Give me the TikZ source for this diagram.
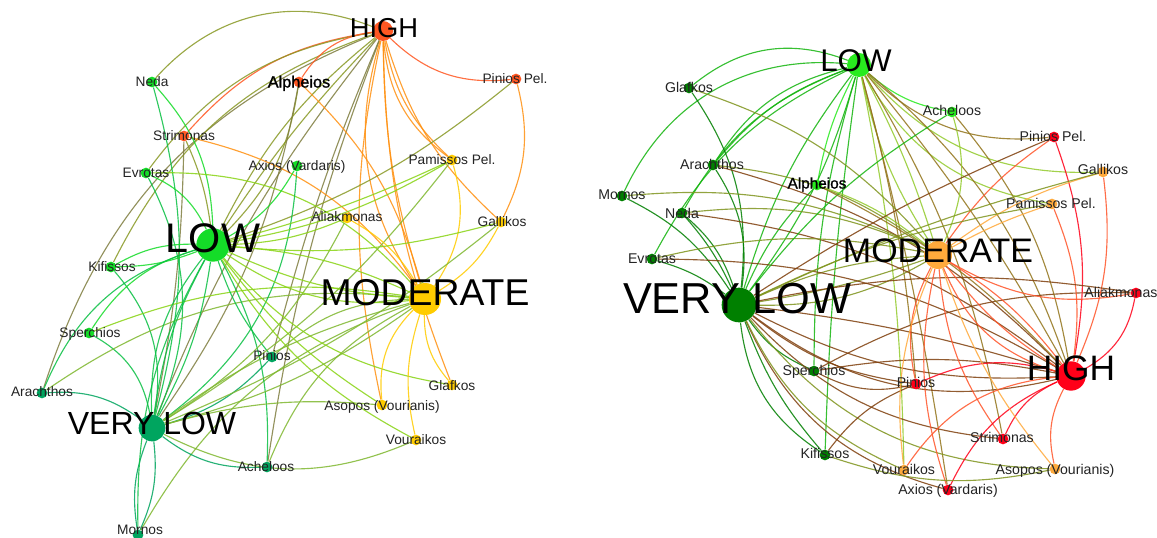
\documentclass[tikz,border=0pt]{standalone}
\usepackage{fontspec}
\setmainfont{Liberation Sans}
\newfontfamily\semibold[FakeBold=1.2]{Liberation Sans}
\pgfdeclarelayer{bgw}
\pgfdeclarelayer{edges}
\pgfdeclarelayer{labels}
\pgfsetlayers{bgw,edges,main,labels}
\definecolor{lHi}{RGB}{255,87,34}
\definecolor{lLo}{RGB}{20,220,40}
\definecolor{lVl}{RGB}{0,165,95}
\definecolor{lMo}{RGB}{255,204,0}
\definecolor{rLo}{RGB}{40,235,30}
\definecolor{rVl}{RGB}{0,128,0}
\definecolor{rMo}{RGB}{255,170,60}
\definecolor{rHi}{RGB}{255,0,25}
\definecolor{txt}{RGB}{35,35,35}
\tikzset{
  dot/.style={circle,inner sep=0pt,minimum size=#1},
  lab/.style={inner sep=0pt,anchor=mid,yshift=-1.5pt,text=txt,font=\fontsize{10.3}{12}\selectfont},
  labr/.style={lab,font=\fontsize{10.6}{12}\selectfont},
  big/.style={inner sep=0pt,anchor=base,text=black,font=\fontsize{#1}{#1}\selectfont},
  edge/.style={line width=0.85pt,opacity=0.85}
}
\def\bs{-1}
\begin{document}
\begin{tikzpicture}[x=0.75pt,y=-0.75pt]
\useasboundingbox (0,0) rectangle (1157,538);
\begin{pgfonlayer}{bgw}
\fill[white] (0,0) rectangle (1157,538);
\end{pgfonlayer}
% ---------- class nodes
\foreach \n/\x/\y/\c/\s in {aHIGH/383/31/lHi/15pt,aLOW/213/245/lLo/25pt,aMOD/425/299/lMo/24pt,aVL/152/428/lVl/20pt,
  bLOW/859/65/rLo/18pt,bMOD/938/255/rMo/21pt,bVL/739/305/rVl/26pt,bHIGH/1071/376/rHi/22pt}{
  \edef\tmp{\noexpand\xglobal\noexpand\colorlet{\n}{\c}}\tmp
  \node[dot=\s,fill=\c] (\n) at (\x,\y) {};
}
% ---------- left river nodes
\foreach \n/\x/\y/\c/\t/\lx/\ly in {
  aNeda/152/82/lLo/Neda/152/81,
  aPPel/516/79/lHi/Pinios Pel./515/78,
  aStri/184/136/lHi/Strimonas/184/135,
  aEvro/146/173/lLo/Evrotas/146/172,
  aAxio/297/166/lLo/{Axios (Vardaris)}/297/165,
  aPami/452/160/lMo/Pamissos Pel./452/159,
  aAlia/347/218/lMo/Aliakmonas/347/216,
  aGall/501/222/lMo/Gallikos/502/221,
  aKifi/111/267/lLo/Kifissos/112/266,
  aSper/89/333/lLo/Sperchios/90/332,
  aPini/272/357/lVl/Pinios/272/355,
  aArac/42/393/lVl/Arachthos/42/391,
  aGlaf/452/385/lMo/Glafkos/452/385,
  aAsop/382/405/lMo/{Asopos (Vourianis)}/382/405,
  aVour/416/440/lMo/Vouraikos/416/439,
  aAche/267/467/lVl/Acheloos/266/466,
  aMorn/138/535/lVl/Mornos/140/529}{
  \edef\tmp{\noexpand\xglobal\noexpand\colorlet{\n}{\c}}\tmp
  \node[dot=8pt,fill=\c] (\n) at (\x,\y) {};
  \begin{pgfonlayer}{labels}
  \node[lab] (\n-t) at (\lx,\ly) {\t};
  \end{pgfonlayer}
}
% ---------- right river nodes
\foreach \n/\x/\y/\c/\t/\lx/\ly in {
  bGlaf/689/88/rVl/Glafkos/689/87,
  bAche/952/112/rLo/Acheloos/952/110,
  bPPel/1054/137/rHi/Pinios Pel./1053/136,
  bArac/713/165/rVl/Arachthos/712/164,
  bGall/1103/172/rMo/Gallikos/1103/169,
  bMorn/622/196/rVl/Mornos/622/194,
  bPami/1052/204/rMo/Pamissos Pel./1051/203,
  bNeda/682/213/rVl/Neda/682/213,
  bEvro/652/259/rVl/Evrotas/652/258,
  bAlia/1136/293/rHi/Aliakmonas/1121/292,
  bSper/814/371/rVl/Sperchios/814/370,
  bPini/916/384/rHi/Pinios/916/382,
  bStri/1003/439/rHi/Strimonas/1002/437,
  bKifi/825/455/rVl/Kifissos/825/453,
  bVour/904/470/rMo/Vouraikos/904/469,
  bAsop/1055/469/rMo/{Asopos (Vourianis)}/1055/469,
  bAxio/948/490/rHi/{Axios (Vardaris)}/948/489}{
  \edef\tmp{\noexpand\xglobal\noexpand\colorlet{\n}{\c}}\tmp
  \node[dot=8pt,fill=\c] (\n) at (\x,\y) {};
  \begin{pgfonlayer}{labels}
  \node[labr] (\n-t) at (\lx,\ly) {\t};
  \end{pgfonlayer}
}
\xglobal\colorlet{aAlph}{lHi}
\xglobal\colorlet{bAlph}{rLo}
\node[dot=8pt,fill=lHi] (aAlph) at (299,82) {};
\node[dot=8pt,fill=rLo] (bAlph) at (817,185) {};
\begin{pgfonlayer}{labels}
\node[lab,text=black,font=\semibold\fontsize{12.2}{14}\selectfont] (aAlph-t) at (299,82) {Alpheios};
\node[lab,text=black,font=\semibold\fontsize{11.5}{14}\selectfont] (bAlph-t) at (817,183) {Alpheios};
\node[big=20.5pt] (aHIGH-t) at (384,38) {HIGH};
\node[big=31pt] (aLOW-t) at (213,253) {LOW};
\node[big=28pt] (aMOD-t) at (425,306) {MODERATE};
\node[big=24pt] (aVL-t) at (152,434.5) {VERY LOW};
\node[big=23.5pt] (bLOW-t) at (856,72) {LOW};
\node[big=25.5pt] (bMOD-t) at (938,263) {MODERATE};
\node[big=32.5pt] (bVL-t) at (737,313.5) {VERY LOW};
\node[big=26.5pt] (bHIGH-t) at (1071,380) {HIGH};
\end{pgfonlayer}
% ---------- edges
\begin{pgfonlayer}{edges}
\foreach \a/\b/\k in {
 aHIGH/aNeda/35, aHIGH/aStri/20, aHIGH/aEvro/22, aHIGH/aArac/25, aHIGH/aKifi/22, aHIGH/aAlph/25,
 aHIGH/aLOW/5, aHIGH/aLOW/12, aHIGH/aVL/8, aHIGH/aPini/4, aHIGH/aAche/6, aHIGH/aPPel/25,
 aHIGH/aPami/18, aHIGH/aPami/24, aHIGH/aGall/15, aHIGH/aMOD/25, aHIGH/aMOD/8, aHIGH/aAsop/12, aHIGH/aGlaf/10,
 aAlph/aMOD/-15, aAlph/aLOW/-18, aAlph/aVL/-12, aStri/aMOD/-20, aStri/aLOW/-8, aStri/aVL/-5,
 aPPel/aGall/-20, aPPel/aLOW/-10, aNeda/aLOW/-20, aNeda/aVL/-15, aEvro/aLOW/-20, aEvro/aVL/-25, aEvro/aMOD/-25,
 aKifi/aLOW/-15, aKifi/aLOW/10, aKifi/aVL/-25, aSper/aLOW/-20, aSper/aVL/-25, aSper/aMOD/-15,
 aArac/aLOW/-25, aArac/aVL/-20, aArac/aMOD/-20, aMorn/aVL/15, aMorn/aVL/-15, aMorn/aLOW/-15, aMorn/aMOD/-20,
 aPini/aLOW/-10, aPini/aVL/-15, aPini/aMOD/-20, aAche/aLOW/15, aVL/aAche/20, aAche/aMOD/-20,
 aAxio/aLOW/-15, aAxio/aVL/-25, aPami/aLOW/-10, aPami/aLOW/-5, aPami/aMOD/-25, aPami/aVL/-10,
 aAlia/aLOW/-10, aAlia/aVL/-15, aAlia/aMOD/-15, aGall/aLOW/-10, aGall/aMOD/-15, aGall/aVL/-8,
 aLOW/aGlaf/20, aMOD/aGlaf/20, aMOD/aAsop/25, aLOW/aAsop/10, aVL/aAsop/-10, aMOD/aVour/15, aLOW/aVour/15, aVL/aVour/25,
 aLOW/aVL/10, aLOW/aVL/-10, aLOW/aVL/20, aLOW/aMOD/10, aLOW/aMOD/-10, aLOW/aMOD/20, aVL/aMOD/-10, aVL/aMOD/10,
 bLOW/bMorn/35, bLOW/bArac/15, bLOW/bArac/22, bLOW/bNeda/20, bLOW/bEvro/18, bLOW/bGlaf/30, bLOW/bAlph/8,
 bLOW/bAche/15, bLOW/bPPel/25, bLOW/bGall/25, bLOW/bPami/25, bLOW/bMOD/10, bLOW/bMOD/-5, bLOW/bVL/10, bLOW/bVL/-10,
 bLOW/bHIGH/-15, bLOW/bHIGH/-5, bLOW/bPini/-5, bLOW/bStri/-10, bLOW/bAxio/-3, bLOW/bVour/-5, bLOW/bSper/8, bLOW/bKifi/3,
 bGlaf/bVL/-20, bArac/bVL/-20, bMorn/bVL/-15, bNeda/bVL/-15, bNeda/bVL/-8, bEvro/bVL/-10, bVL/bSper/15,
 bVL/bKifi/25, bVL/bKifi/10, bVL/bAlph/-10, bVL/bMOD/-10, bVL/bMOD/5, bVL/bMOD/15, bVL/bHIGH/15, bVL/bHIGH/25, bVL/bHIGH/-5,
 bVL/bPini/15, bVL/bStri/20, bVL/bAxio/25, bVL/bVour/20, bVL/bAsop/25, bSper/bAlia/-15, bSper/bHIGH/-10,
 bArac/bHIGH/-15, bNeda/bHIGH/-15, bEvro/bHIGH/-15, bMorn/bMOD/-15, bGlaf/bMOD/-15, bNeda/bMOD/-15, bEvro/bMOD/-12, bArac/bMOD/-15,
 bAche/bMOD/-20, bAche/bVL/10, bAche/bHIGH/-15, bAlph/bMOD/-10, bAlph/bHIGH/-10,
 bPPel/bHIGH/-15, bPPel/bMOD/10, bPPel/bVL/5, bGall/bHIGH/-15, bGall/bMOD/10, bGall/bVL/5, bPami/bHIGH/-15, bPami/bMOD/5, bPami/bVL/8,
 bHIGH/bAlia/25, bMOD/bAlia/20, bVL/bAlia/-10, bHIGH/bPini/20, bMOD/bPini/20, bSper/bPini/20, bKifi/bPini/-15,
 bStri/bHIGH/-20, bMOD/bStri/15, bAxio/bHIGH/-20, bMOD/bAxio/15, bHIGH/bAsop/20, bMOD/bAsop/10, bKifi/bAsop/15,
 bVour/bHIGH/-25, bMOD/bVour/15, bMOD/bHIGH/10, bMOD/bHIGH/-10, bMOD/bHIGH/25}{
  \pgfmathsetmacro\kk{\bs*\k}
  \draw[edge,draw=\a!50!\b] (\a) to[bend left=\kk] (\b);
}
\end{pgfonlayer}
\end{tikzpicture}
\end{document}
